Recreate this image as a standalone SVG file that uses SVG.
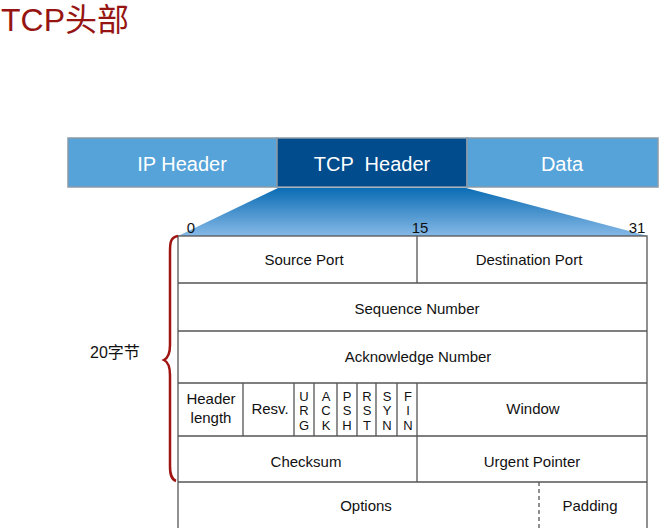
<svg xmlns="http://www.w3.org/2000/svg" width="664" height="528" viewBox="0 0 664 528">
<defs>
<linearGradient id="fan" x1="0" y1="0" x2="0" y2="1">
<stop offset="0" stop-color="#0A6CB4"/>
<stop offset="1" stop-color="#86B9E6"/>
</linearGradient>
<style>
.t{font-family:"Liberation Sans",Arial,sans-serif;font-size:15px;fill:#111;text-anchor:middle}
.f{font-family:"Liberation Sans",Arial,sans-serif;font-size:13px;fill:#111;text-anchor:middle}
.h{font-family:"Liberation Sans",Arial,sans-serif;font-size:20px;fill:#fff;text-anchor:middle}
.cell{fill:#fff;stroke:#555;stroke-width:1.3}
.ln{stroke:#555;stroke-width:1.3;fill:none}
.bar{stroke:#8a9aa8;stroke-width:1.5}
</style>
</defs>
<rect width="664" height="528" fill="#fff"/>
<text x="1" y="31" style="font-family:'Liberation Sans','Noto Sans CJK SC',sans-serif;font-size:32px;fill:#961512">TCP头部</text>

<g id="ip-header"><rect class="bar" x="68" y="138" width="209" height="49" fill="#55A3D8"/><text class="h" x="182" y="171">IP Header</text></g>
<g id="tcp-header"><rect class="bar" x="277" y="138" width="190" height="49" fill="#004C8C"/><text class="h" x="372" y="171" xml:space="preserve">TCP  Header</text></g>
<g id="data"><rect class="bar" x="467" y="138" width="191" height="49" fill="#55A3D8"/><text class="h" x="562" y="171">Data</text></g>

<g id="expansion"><polygon points="278,188 466,188 648,236 178,236" fill="url(#fan)"/></g>

<g id="bit-labels">
<text class="t" x="191" y="233">0</text>
<text class="t" x="420" y="233">15</text>
<text class="t" x="637" y="233">31</text>
</g>

<g id="table">
<rect class="cell" x="178" y="236" width="469" height="300"/>
<g id="source-port"><text class="t" x="304" y="265">Source Port</text></g>
<g id="destination-port"><text class="t" x="529" y="265">Destination Port</text></g>
<g id="sequence-number"><text class="t" x="417" y="314">Sequence Number</text></g>
<g id="acknowledge-number"><text class="t" x="418" y="362">Acknowledge Number</text></g>
<g id="header-length"><text class="t" x="211" y="404">Header</text><text class="t" x="211" y="423">length</text></g>
<g id="resv"><text class="t" x="270" y="414">Resv.</text></g>
<g id="urg"><text class="f" x="304" y="401">U</text><text class="f" x="304" y="415">R</text><text class="f" x="304" y="430">G</text></g>
<g id="ack"><text class="f" x="326" y="401">A</text><text class="f" x="326" y="415">C</text><text class="f" x="326" y="430">K</text></g>
<g id="psh"><text class="f" x="347" y="401">P</text><text class="f" x="347" y="415">S</text><text class="f" x="347" y="430">H</text></g>
<g id="rst"><text class="f" x="367" y="401">R</text><text class="f" x="367" y="415">S</text><text class="f" x="367" y="430">T</text></g>
<g id="syn"><text class="f" x="387" y="401">S</text><text class="f" x="387" y="415">Y</text><text class="f" x="387" y="430">N</text></g>
<g id="fin"><text class="f" x="408" y="401">F</text><text class="f" x="408" y="415">I</text><text class="f" x="408" y="430">N</text></g>
<g id="window"><text class="t" x="533" y="414">Window</text></g>
<g id="checksum"><text class="t" x="306" y="467">Checksum</text></g>
<g id="urgent-pointer"><text class="t" x="532" y="467">Urgent Pointer</text></g>
<g id="options"><text class="t" x="366" y="511">Options</text></g>
<g id="padding"><text class="t" x="590" y="511">Padding</text></g>
</g>

<g id="connectors">
<path class="ln" d="M178 283H647M178 331H647M178 383H647M178 436H647M178 482H647"/>
<path class="ln" d="M417 236V283M243 383V436M294 383V436M314 383V436M337 383V436M357 383V436M376 383V436M397 383V436M417 383V482"/>
<path class="ln" d="M539 482V528" stroke-dasharray="4,3"/>
<path d="M178 236 C170 237 170 244 170 252 L170 345 C170 354 168 358 164 360 C168 362 170 366 170 375 L170 466 C170 474 171 479 176 481" fill="none" stroke="#A01412" stroke-width="2.5"/>
</g>
<g id="brace-label"><text x="90" y="358" style="font-family:'Liberation Sans','Noto Sans CJK SC',sans-serif;font-size:16px;fill:#111">20字节</text></g>
</svg>
